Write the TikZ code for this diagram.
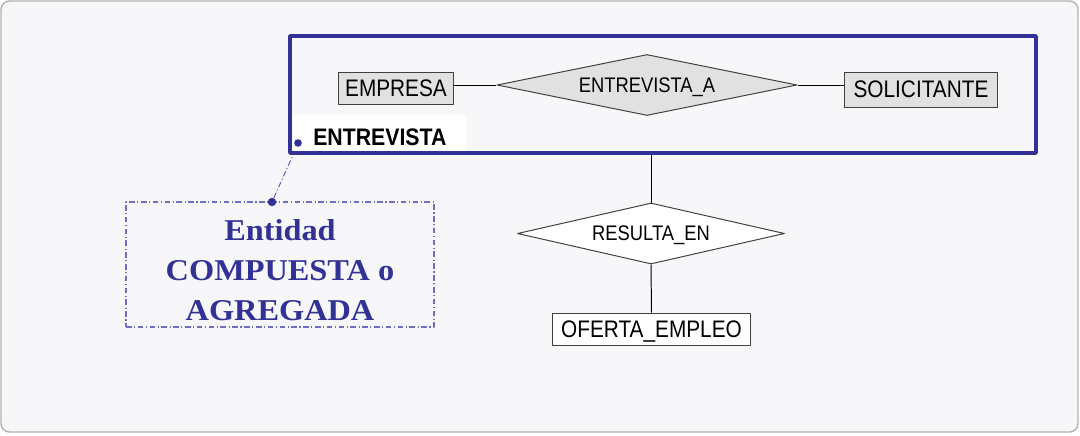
\documentclass[tikz,border=0pt]{standalone}
\usepackage{fontspec}
\setmainfont{Liberation Sans}[FakeStretch=0.87]
\newfontfamily\lblfont[FakeStretch=0.89]{Liberation Sans}
\newfontfamily\notefont[FakeStretch=1.07]{Liberation Serif}
\usetikzlibrary{shapes.geometric}
\definecolor{aggblue}{RGB}{50,50,150}
\definecolor{notelila}{RGB}{110,110,190}
\definecolor{entgray}{RGB}{225,225,225}
\definecolor{panel}{RGB}{247,247,250}
\begin{document}
\begin{tikzpicture}[x=0.025cm,y=-0.025cm,line join=round,
	entidad/.style={draw=black!75,line width=0.7pt,inner sep=0pt,text depth=0pt,font=\fontsize{17}{20}\selectfont},
	relacion/.style={diamond,draw=black!75,line width=0.7pt,inner sep=0pt,text depth=0pt,font=\fontsize{15}{18}\selectfont},
	nota/.style={draw=notelila,line width=0.8pt,dash pattern=on 4pt off 1.8pt on 0.8pt off 1.8pt},
	punto/.style={circle,fill=aggblue,inner sep=0pt,minimum size=0.21cm}]
	\useasboundingbox (0,0) rectangle (1080,435);
	\fill[white] (0,0) rectangle (1080,435);
	\draw[fill=panel,draw=black!30,line width=1pt,rounded corners=6pt] (1,1) rectangle (1078,432);
	% agregacion
	\node[draw=aggblue,line width=2.4pt,minimum width=18.65cm,minimum height=2.925cm] (agg) at (663,94.5) {};
	\node[fill=white,anchor=south west,inner sep=0pt,minimum width=4.35cm,minimum height=0.9cm] (lbl) at (292,151) {};
	\node[anchor=base west,inner sep=0pt,font=\lblfont\bfseries\fontsize{17}{20}\selectfont] (lbltxt) at (313,145) {ENTREVISTA};
	\node[punto,minimum size=0.19cm] (bul) at (298,143) {};
	% entidades y relaciones
	\node[entidad,fill=entgray,minimum width=2.85cm,minimum height=0.8cm] (emp) at (396,88) {EMPRESA};
	\node[entidad,fill=entgray,minimum width=3.8cm,minimum height=0.875cm] (sol) at (921,89.5) {SOLICITANTE};
	\node[relacion,fill=entgray,aspect=4.9,minimum width=7.5cm,minimum height=1.525cm] (ent) at (647,85) {ENTREVISTA\_A};
	\node[relacion,fill=white,aspect=4.4,minimum width=6.675cm,minimum height=1.525cm] (res) at (651,233.5) {RESULTA\_EN};
	\node[entidad,fill=white,minimum width=4.925cm,minimum height=0.8cm] (ofe) at (651.5,329) {OFERTA\_EMPLEO};
	\draw[line width=0.7pt] (ent.west) -- (ent.west -| emp.east);
	\draw[line width=0.7pt] (ent.east) -- (ent.east -| sol.west);
	\draw[line width=0.7pt] (agg.south -| res.north) -- (res.north);
	\draw[line width=0.7pt] (res.south) -- (ofe.north);
	% nota
	\node[nota,minimum width=7.7cm,minimum height=3.125cm] (caja) at (280,264.5) {};
	\node[punto] (ndot) at (272,202) {};
	\coordinate (pin) at (293,155);
	\draw[nota] (ndot) -- (pin);
	\node[align=center,text=aggblue,font=\notefont\bfseries\fontsize{21.5}{28.4}\selectfont] (notatxt) at (280,270) {Entidad\\COMPUESTA o\\AGREGADA};
\end{tikzpicture}
\end{document}
